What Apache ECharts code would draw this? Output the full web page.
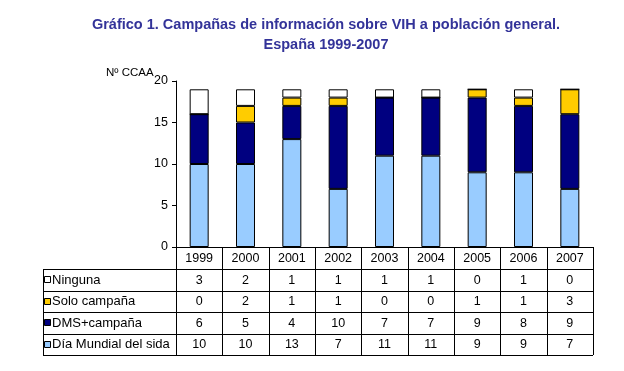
<!DOCTYPE html>
<html><head><meta charset="utf-8">
<script src="https://cdn.jsdelivr.net/npm/echarts@6/dist/echarts.min.js"></script>
<style>html,body{margin:0;padding:0;background:#fff}#c{width:624px;height:371px}</style>
</head><body><div id="c"></div>
<script>
var years = ['1999','2000','2001','2002','2003','2004','2005','2006','2007'];
var ninguna = [3,2,1,1,1,1,0,1,0];
var soloCampana = [0,2,1,1,0,0,1,1,3];
var dmsCampana = [6,5,4,10,7,7,9,8,9];
var diaMundial = [10,10,13,7,11,11,9,9,7];
var seriesNames = ['Ninguna','Solo campaña','DMS+campaña','Día Mundial del sida'];
var seriesColors = ['#FFFFFF','#FFCC00','#000080','#99CCFF'];
var tableRows = [ninguna, soloCampana, dmsCampana, diaMundial];

var FONT = "'Liberation Sans', Arial, sans-serif";
var gl = 176, gt = 81, gw = 417, gh = 166;
var tLeft = 43, headH = 22, rowH = 21.5;
var colW = gw / years.length;

var chart = echarts.init(document.getElementById('c'));
var graphic = [];
function line(x1,y1,x2,y2){graphic.push({type:'line',silent:true,shape:{x1:x1,y1:y1,x2:x2,y2:y2},style:{stroke:'#000',lineWidth:1}});}
function text(x,y,t,align,fs){graphic.push({type:'text',silent:true,x:x,y:y,style:{text:t,font:(fs||12.5)+'px '+FONT,fill:'#000',align:align||'center',verticalAlign:'middle'}});}
var bottom = gt + gh;
var tBottom = bottom + headH + rowH*tableRows.length;
line(gl, bottom+0.5, gl+gw, bottom+0.5);
for (var r=0;r<=tableRows.length;r++){
  var y = Math.round(bottom+headH+rowH*r)+0.5;
  line(tLeft, y, gl+gw, y);
}
line(tLeft+0.5, bottom+headH, tLeft+0.5, tBottom);
for (var c=0;c<=years.length;c++){
  var x = Math.round(gl+colW*c)+0.5;
  line(x, bottom, x, tBottom);
}
years.forEach(function(yr,i){ text(gl+colW*(i+0.5), bottom+headH/2+1, yr); });
tableRows.forEach(function(vals,r){
  var cy = bottom+headH+rowH*(r+0.5)+0.5;
  graphic.push({type:'rect',silent:true,shape:{x:tLeft+1.5,y:Math.round(cy)-3.5,width:6,height:6},style:{fill:seriesColors[r],stroke:'#000',lineWidth:1}});
  text(tLeft+9, cy, seriesNames[r], 'left', 13);
  vals.forEach(function(v,i){ text(gl+colW*(i+0.5), cy, String(v)); });
});
graphic.push({type:'text',silent:true,x:106,y:73,style:{text:'Nº CCAA',font:'11.5px '+FONT,fill:'#000',align:'left',verticalAlign:'middle'}});

var stackOrder = [3,2,1,0];
chart.setOption({
  animation:false,
  backgroundColor:'#fff',
  title:{text:'Gráfico 1. Campañas de información sobre VIH a población general.\nEspaña 1999-2007',
    left:321, top:10, textAlign:'center',
    textStyle:{fontFamily:FONT,fontSize:14.5,fontWeight:'bold',color:'#333399',lineHeight:20}},
  grid:{left:gl,top:gt,width:gw,height:gh},
  xAxis:{type:'category',data:years,axisLine:{show:false},axisTick:{show:false},axisLabel:{show:false}},
  yAxis:{type:'value',min:0,max:20,interval:5,
    axisLine:{show:true,lineStyle:{color:'#000'}},
    axisTick:{show:true,length:4,lineStyle:{color:'#000'}},
    axisLabel:{color:'#000',fontFamily:FONT,fontSize:12.5,margin:8},
    splitLine:{show:false}},
  series: stackOrder.map(function(k){
    return {name:seriesNames[k],type:'bar',stack:'s',data:tableRows[k],barWidth:19,
      itemStyle:{color:seriesColors[k],borderColor:'#000',borderWidth:1}};
  }),
  graphic:graphic
});
</script></body></html>
